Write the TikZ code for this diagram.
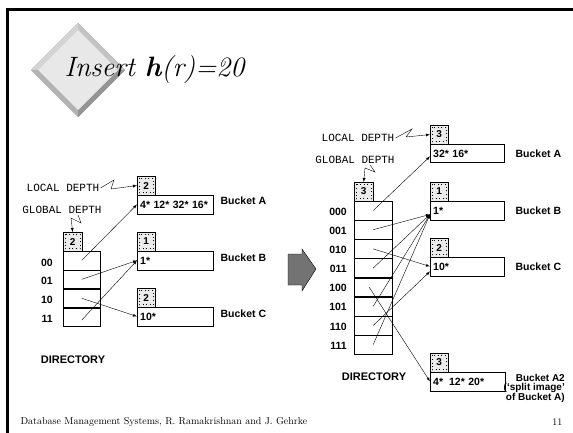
\documentclass[tikz,border=0pt]{standalone}
\usepackage{fontspec}
\setsansfont{Liberation Sans}
\setmonofont{Liberation Mono}
\usetikzlibrary{positioning}

\tikzset{
  cell/.style={draw, minimum width=37pt, minimum height=18.5pt, inner sep=0pt, anchor=north west},
  bucket/.style={draw, text width=70pt, minimum height=18.5pt, inner sep=3pt, align=left,
    anchor=north west, font=\sffamily\bfseries\fontsize{10.5}{12}\selectfont},
  depth/.style={draw, fill=black!8, minimum width=18pt, minimum height=18.5pt, inner sep=0pt,
    anchor=south west, font=\sffamily\bfseries\fontsize{10}{12}\selectfont,
    path picture={\draw[line width=1.1pt, dash pattern=on 1pt off 2.6pt]
      ([shift={(2pt,-2pt)}]path picture bounding box.north west) rectangle
      ([shift={(-2pt,2pt)}]path picture bounding box.south east);}},
  idx/.style={inner sep=0pt, font=\sffamily\bfseries\fontsize{10.5}{12}\selectfont},
  bname/.style={inner sep=0pt, align=right, font=\sffamily\bfseries\fontsize{10.5}{12}\selectfont},
  mono/.style={inner sep=1pt, font=\ttfamily\fontsize{11}{12}\selectfont}
}

\begin{document}
\begin{tikzpicture}[x=1pt, y=-1pt, >=latex]
\useasboundingbox (0,0) rectangle (573,433);
\draw[line width=3pt] (573,10) -- (7,10) -- (7,433);
% diamond behind the title
\fill[black!40] (78,23) -- (125,70) -- (78,117) -- (31,70) -- cycle;
\fill[black!17] (31,70) -- (78,23) -- (78,30) -- (38,70) -- cycle;
\fill[black!23] (78,23) -- (125,70) -- (118,70) -- (78,30) -- cycle;
\fill[black!30] (31,70) -- (78,117) -- (78,110) -- (38,70) -- cycle;
\fill[black!42] (125,70) -- (78,117) -- (78,110) -- (118,70) -- cycle;
\fill[black!9] (78,30) -- (118,70) -- (78,110) -- (38,70) -- cycle;
\node[anchor=west, font=\itshape\fontsize{28}{30}\selectfont] (title) at (61,70) {Insert \textbf{h}(r)=20};

% before the split
\node[cell] (L00) at (63,251) {};
\node[cell] (L01) at (L00.south west) {};
\node[cell] (L10) at (L01.south west) {};
\node[cell] (L11) at (L10.south west) {};
\node[depth, minimum width=19pt] (gdL) at (L00.north west) {2};
\node[idx, left=10pt] at ([yshift=-2pt]L00.west) {00};
\node[idx, left=10pt] at ([yshift=-2pt]L01.west) {01};
\node[idx, left=10pt] at ([yshift=-2pt]L10.west) {10};
\node[idx, left=10pt] at ([yshift=-2pt]L11.west) {11};
\node[mono] (localL) at (63,188) {LOCAL DEPTH};
\node[mono] (globalL) at (62,210) {GLOBAL DEPTH};
\node[idx, font=\sffamily\bfseries\fontsize{11}{12}\selectfont] (dirL) at (73,360) {DIRECTORY};

\node[bucket] (bucA) at (137,195) {4* 12* 32* 16*};
\node[depth] (ldA) at (bucA.north west) {2};
\node[bucket] (bucB) at (137,251) {1*};
\node[depth] (ldB) at (bucB.north west) {1};
\node[bucket] (bucC) at (137,307) {10*};
\node[depth] (ldC) at (bucC.north west) {2};
\node[bname, right=7pt] at ([yshift=4pt]bucA.east) {Bucket A};
\node[bname, right=7pt] at ([yshift=3pt]bucB.east) {Bucket B};
\node[bname, right=7pt] at ([yshift=3pt]bucC.east) {Bucket C};

\draw[->] (localL.east) -- (114,180) -- (111,189) -- (ldA.west);
\draw[->] ([xshift=16pt]globalL.south) -- (81,223) -- (71,218) -- (gdL.north);
\draw[->] (L00.center) -- (bucA.west);
\draw[->] (L01.center) -- (bucB.west);
\draw[->] (L10.center) -- (bucC.west);
\draw[->] ([yshift=-3pt]L11.center) -- (bucB.west);

% big arrow
\draw[fill=black!55] (288,254) -- (302,254) -- (302,249) -- (316,269) -- (302,291) -- (302,285) -- (288,285) -- cycle;

% after the split
\node[cell, minimum width=38pt, minimum height=18.75pt] (R000) at (354,201) {};
\node[cell, minimum width=38pt, minimum height=18.75pt] (R001) at (R000.south west) {};
\node[cell, minimum width=38pt, minimum height=18.75pt] (R010) at (R001.south west) {};
\node[cell, minimum width=38pt, minimum height=18.75pt] (R011) at (R010.south west) {};
\node[cell, minimum width=38pt, minimum height=18.75pt] (R100) at (R011.south west) {};
\node[cell, minimum width=38pt, minimum height=18.75pt] (R101) at (R100.south west) {};
\node[cell, minimum width=38pt, minimum height=18.75pt] (R110) at (R101.south west) {};
\node[cell, minimum width=38pt, minimum height=18.75pt] (R111) at (R110.south west) {};
\node[depth, minimum width=19pt] (gdR) at (R000.north west) {3};
\node[idx, left=7pt] at ([yshift=-1pt]R000.west) {000};
\node[idx, left=7pt] at ([yshift=-1pt]R001.west) {001};
\node[idx, left=7pt] at ([yshift=-1pt]R010.west) {010};
\node[idx, left=7pt] at ([yshift=-1pt]R011.west) {011};
\node[idx, left=7pt] at ([yshift=-1pt]R100.west) {100};
\node[idx, left=7pt] at ([yshift=-1pt]R101.west) {101};
\node[idx, left=7pt] at ([yshift=-1pt]R110.west) {110};
\node[idx, left=7pt] at ([yshift=-1pt]R111.west) {111};
\node[mono] (localR) at (358,138) {LOCAL DEPTH};
\node[mono] (globalR) at (355,160) {GLOBAL DEPTH};
\node[idx, font=\sffamily\bfseries\fontsize{11}{12}\selectfont] (dirR) at (374,377) {DIRECTORY};

\node[bucket, text width=68pt] (nbucA) at (430,144) {32* 16*};
\node[depth] (nldA) at (nbucA.north west) {3};
\node[bucket, text width=68pt] (nbucB) at (430,201) {1*};
\node[depth] (nldB) at (nbucB.north west) {1};
\node[bucket, text width=68pt] (nbucC) at (430,257) {10*};
\node[depth] (nldC) at (nbucC.north west) {2};
\node[bucket, text width=69pt] (nbucA2) at (430,372) {4*\hspace{6pt}12* 20*};
\node[depth] (nldA2) at (nbucA2.north west) {3};
\node[bname, right=11pt] at (nbucA.east) {Bucket A};
\node[bname, right=11pt] at (nbucB.east) {Bucket B};
\node[bname, right=11pt] at (nbucC.east) {Bucket C};
\node[bname, anchor=north east, font=\sffamily\bfseries\fontsize{10}{9.5}\selectfont] at (565,374) {Bucket A2\\(`split image'\\of Bucket A)};

\draw[->] (localR.east) -- (412,129) -- (406,137) -- (nldA.west);
\draw[->] ([xshift=15pt]globalR.south) -- (375,172) -- (365,168) -- (gdR.north);
\draw[->] (R000.center) -- ([yshift=-3pt]nbucA.west);
\draw[->] (R001.center) -- ([yshift=-4pt]nbucB.west);
\draw[->] (R010.center) -- (nbucC.west);
\draw[->] (R011.center) -- ([yshift=-4pt]nbucB.west);
\draw[->] ([xshift=-4pt]R100.center) -- (nbucA2.west);
\draw[->] (R101.center) -- ([yshift=-4pt]nbucB.west);
\draw[->] (R110.center) -- ([yshift=-5pt]nbucC.west);
\draw[->] (R111.center) -- ([yshift=-4pt]nbucB.west);

\node[anchor=west, font=\fontsize{10}{12}\selectfont] (foot) at (17,422) {Database Management Systems, R. Ramakrishnan and J. Gehrke};
\node[anchor=east, font=\fontsize{10}{12}\selectfont] (page) at (566,422) {11};
\end{tikzpicture}
\end{document}
